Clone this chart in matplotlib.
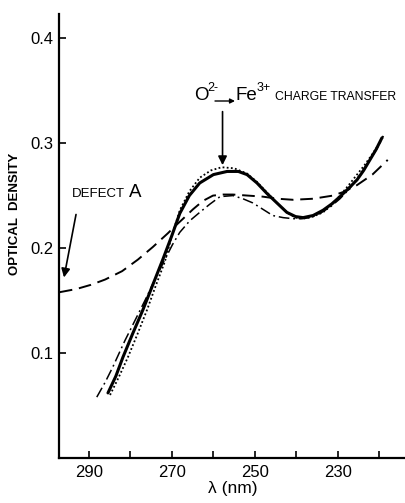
import matplotlib.pyplot as plt
from matplotlib import font_manager
from matplotlib.ticker import FixedLocator

# pick a narrow sans face if installed
names = {f.name for f in font_manager.fontManager.ttflist}
if 'Liberation Sans Narrow' in names:
    face = 'Liberation Sans Narrow'
elif 'Liberation Sans' in names:
    face = 'Liberation Sans'
else:
    face = 'DejaVu Sans'
plt.rcParams['font.family'] = [face, 'DejaVu Sans']

# wavelength (nm) / optical density pairs for each spectrum
wl_solid = [285.4, 283.5, 281.8, 279.5, 277.0, 274.6, 272.2, 270.0, 268.1, 265.8, 263.3, 260.0,
            256.7, 254.0, 251.9, 249.5, 247.1, 244.7, 242.3, 240.2, 238.4, 236.0, 233.6, 231.5,
            229.5, 227.4, 225.4, 223.8, 222.3, 220.8, 219.4]
od_solid = [0.062, 0.078, 0.096, 0.118, 0.141, 0.165, 0.189, 0.212, 0.233, 0.250, 0.262, 0.270,
            0.273, 0.273, 0.270, 0.262, 0.252, 0.243, 0.234, 0.230, 0.229, 0.231, 0.236, 0.242,
            0.249, 0.257, 0.265, 0.274, 0.284, 0.294, 0.305]

wl_dot = [284.9, 282.8, 280.6, 278.3, 276.0, 273.9, 271.7, 270.0, 268.1, 265.8, 263.3, 260.6,
          258.0, 255.0, 251.9, 249.5, 247.1, 244.7, 242.3, 240.2, 238.4, 236.0, 233.6, 231.5,
          229.5, 227.4, 225.4, 223.6, 221.8, 220.3, 218.9]
od_dot = [0.060, 0.077, 0.096, 0.118, 0.141, 0.164, 0.187, 0.212, 0.236, 0.254, 0.267, 0.274,
          0.277, 0.276, 0.271, 0.263, 0.253, 0.243, 0.234, 0.229, 0.228, 0.230, 0.234, 0.241,
          0.250, 0.260, 0.270, 0.279, 0.289, 0.298, 0.308]

wl_dash = [297.0, 293.0, 289.5, 286.1, 282.0, 278.2, 274.6, 271.0, 269.2, 267.3, 264.9, 262.5,
           260.1, 257.7, 255.3, 251.7, 248.1, 244.5, 240.8, 236.0, 231.2, 228.3, 225.4, 221.7,
           218.0]
od_dash = [0.158, 0.161, 0.165, 0.170, 0.178, 0.189, 0.201, 0.214, 0.221, 0.228, 0.237, 0.245,
           0.250, 0.251, 0.251, 0.250, 0.249, 0.247, 0.246, 0.247, 0.250, 0.254, 0.260, 0.270,
           0.284]

wl_dashdot = [288.1, 286.1, 284.2, 282.7, 281.3, 278.9, 276.5, 274.1, 271.7, 269.9, 268.1, 265.7,
              263.3, 260.8, 258.4, 255.3, 252.9, 250.5, 248.1, 245.7, 243.2, 240.8, 238.7, 236.7,
              234.3, 231.9, 229.5, 227.1, 224.7, 222.3, 220.7, 219.2]
od_dashdot = [0.058, 0.072, 0.087, 0.100, 0.112, 0.131, 0.150, 0.170, 0.189, 0.203, 0.215, 0.226,
              0.234, 0.242, 0.249, 0.250, 0.247, 0.243, 0.237, 0.231, 0.229, 0.228, 0.228, 0.229,
              0.233, 0.239, 0.247, 0.257, 0.270, 0.284, 0.294, 0.305]

x_labels = [290, 270, 250, 230]
x_minor = [280, 260, 240, 220]
y_ticks = [0.1, 0.2, 0.3, 0.4]

W, H = 406, 503
fig = plt.figure(figsize=(W / 100, H / 100), dpi=100)
ax = fig.add_axes([59 / W, 45 / H, 1 - 59 / W, 444 / H])

ax.plot(wl_dash, od_dash, color='black', lw=1.4, dashes=(6.5, 3.5))
ax.plot(wl_dashdot, od_dashdot, color='black', lw=1.1, dashes=(7, 2.5, 1.2, 2.5))
ax.plot(wl_dot, od_dot, color='black', lw=1.3, linestyle=(0, (1, 1.3)))
ax.plot(wl_solid, od_solid, color='black', lw=2.2, solid_capstyle='round')

ax.set_xlim(297.2, 213.6)
ax.set_ylim(0, 0.423)

for s in ['top', 'right']:
    ax.spines[s].set_visible(False)
for s in ['left', 'bottom']:
    ax.spines[s].set_linewidth(1.6)

ax.xaxis.set_major_locator(FixedLocator(x_labels))
ax.xaxis.set_minor_locator(FixedLocator(x_minor))
ax.yaxis.set_major_locator(FixedLocator(y_ticks))
ax.set_xticklabels([str(v) for v in x_labels])
ax.set_yticklabels(['0.1', '0.2', '0.3', '0.4'])
ax.tick_params(axis='both', which='both', direction='in', length=5, width=1.2,
               labelsize=12, pad=5)
ax.tick_params(axis='y', pad=4)

ax.set_ylabel('OPTICAL  DENSITY', fontsize=9.5, fontweight='bold')
ax.yaxis.set_label_coords(-0.11, 0.55)
ax.set_xlabel('λ (nm)', fontsize=12.5, labelpad=1)

# defect label with arrow
fig.text(72 / W, 1 - 197 / H, 'DEFECT', fontsize=9.5, ha='left', va='baseline')
fig.text(129 / W, 1 - 197 / H, 'A', fontsize=13.5, ha='left', va='baseline')
ax.annotate('', xy=(296.0, 0.172), xytext=(293.1, 0.232),
            arrowprops=dict(arrowstyle='-|>', color='black', lw=1.2,
                            mutation_scale=13, shrinkA=0, shrinkB=0))

# charge transfer band label
base = 1 - 100 / H
fig.text(194 / W, base, 'O', fontsize=13.5, ha='left', va='baseline')
fig.text(207 / W, 1 - 91 / H, '2-', fontsize=9, ha='left', va='baseline')
ax.annotate('', xy=(235 / W, 1 - 101 / H), xytext=(215 / W, 1 - 101 / H),
            xycoords='figure fraction', textcoords='figure fraction',
            arrowprops=dict(arrowstyle='-|>', color='black', lw=1.0,
                            mutation_scale=7, shrinkA=0, shrinkB=0))
fig.text(236 / W, base, 'Fe', fontsize=13.5, ha='left', va='baseline')
fig.text(257 / W, 1 - 91 / H, '3+', fontsize=9, ha='left', va='baseline')
fig.text(275 / W, base, 'CHARGE TRANSFER', fontsize=8.8, ha='left', va='baseline')
ax.annotate('', xy=(257.8, 0.279), xytext=(257.8, 0.330),
            arrowprops=dict(arrowstyle='-|>', color='black', lw=1.2,
                            mutation_scale=13, shrinkA=0, shrinkB=0))

fig.savefig('out.png', dpi=100)
